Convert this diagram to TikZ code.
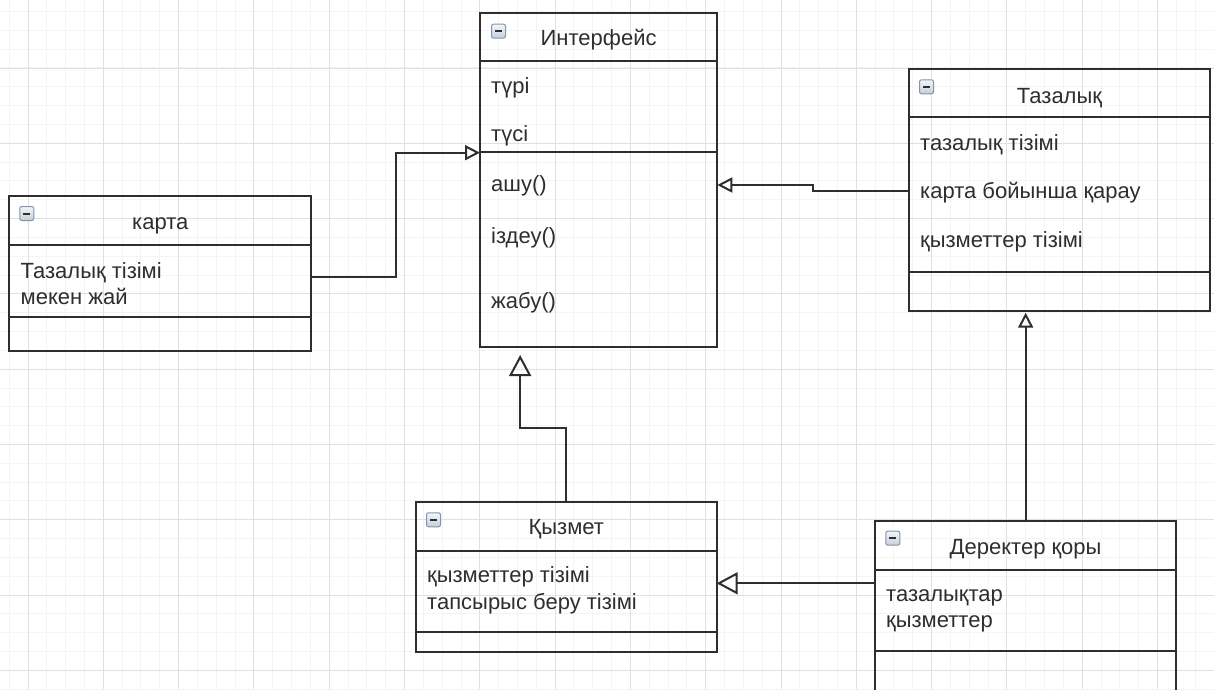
\documentclass[tikz,border=0pt]{standalone}
\usepackage{fontspec}
\setmainfont{Liberation Sans}
\usetikzlibrary{arrows.meta,calc}

\definecolor{ink}{HTML}{2E2E2E}
\definecolor{gridminor}{HTML}{F4F4F4}
\definecolor{gridmajor}{HTML}{E0E0E0}
\definecolor{icontop}{HTML}{F4F6F9}
\definecolor{iconbottom}{HTML}{C3CEDB}
\definecolor{iconedge}{HTML}{8395AA}

\tikzset{
  classbox/.style={draw=ink, line width=2.1pt, inner sep=0pt, outer sep=0pt},
  sepline/.style={draw=ink, line width=2pt},
  title/.style={anchor=base, text=ink, inner sep=0pt, font=\fontsize{22}{26}\selectfont},
  member/.style={anchor=base west, text=ink, inner sep=0pt, font=\fontsize{22}{26}\selectfont},
  foldicon/.style={draw=iconedge, line width=1pt, rounded corners=2pt,
    top color=icontop, bottom color=iconbottom, minimum size=14pt, inner sep=0pt,
    path picture={\draw[ink, line width=2pt]
      ([xshift=3.5pt]path picture bounding box.west) --
      ([xshift=-3.5pt]path picture bounding box.east);}},
  wire/.style={draw=ink, line width=2pt},
  inhsmall/.style={wire, -{Triangle[open, length=15pt, width=15pt]}},
  inhbig/.style={wire, -{Triangle[open, length=21pt, width=22pt]}},
}

\begin{document}
\begin{tikzpicture}[x=1pt, y=-1pt]
  \path[use as bounding box] (0,0) rectangle (1214,689);
  \clip (0,0) rectangle (1214,689);
  \fill[white] (0,0) rectangle (1214,689);

  % background grid
  \foreach \i in {0,...,64} { \draw[gridminor, line width=1pt] ({9.2+18.825*\i},0) -- ++(0,689); }
  \foreach \j in {0,...,36} { \draw[gridminor, line width=1pt] (0,{11.5+18.825*\j}) -- ++(1214,0); }
  \foreach \i in {0,...,15} { \draw[gridmajor, line width=1pt] ({28+75.3*\i},0) -- ++(0,689); }
  \foreach \j in {0,...,8} { \draw[gridmajor, line width=1pt] (0,{68+75.3*\j}) -- ++(1214,0); }

  % class frames
  \node[classbox, anchor=north west, minimum width=237.3pt, minimum height=334pt] (iface) at (480,12.7) {};
  \node[classbox, anchor=north west, minimum width=302pt, minimum height=155.3pt] (karta) at (9.3,196) {};
  \node[classbox, anchor=north west, minimum width=301pt, minimum height=241.4pt] (taz) at (909,69.3) {};
  \node[classbox, anchor=north west, minimum width=300.7pt, minimum height=150pt] (qyz) at (416,502.3) {};
  \node[classbox, anchor=north west, minimum width=300.7pt, minimum height=180pt] (der) at (875.3,520.7) {};

  % compartment separators
  \draw[sepline] ($(iface.north west)+(0,48.6)$) -- ($(iface.north east)+(0,48.6)$);
  \draw[sepline] ($(iface.north west)+(0,139.3)$) -- ($(iface.north east)+(0,139.3)$);
  \draw[sepline] ($(karta.north west)+(0,49.3)$) -- ($(karta.north east)+(0,49.3)$);
  \draw[sepline] ($(karta.north west)+(0,120.7)$) -- ($(karta.north east)+(0,120.7)$);
  \draw[sepline] ($(taz.north west)+(0,48)$) -- ($(taz.north east)+(0,48)$);
  \draw[sepline] ($(taz.north west)+(0,202.4)$) -- ($(taz.north east)+(0,202.4)$);
  \draw[sepline] ($(qyz.north west)+(0,48.4)$) -- ($(qyz.north east)+(0,48.4)$);
  \draw[sepline] ($(qyz.north west)+(0,129.4)$) -- ($(qyz.north east)+(0,129.4)$);
  \draw[sepline] ($(der.north west)+(0,49.3)$) -- ($(der.north east)+(0,49.3)$);
  \draw[sepline] ($(der.north west)+(0,130)$) -- ($(der.north east)+(0,130)$);

  % collapse icons
  \node[foldicon] (ifaceicon) at ($(iface.north west)+(18.5,18.5)$) {};
  \node[foldicon] (kartaicon) at ($(karta.north west)+(17.5,17.5)$) {};
  \node[foldicon] (tazicon) at ($(taz.north west)+(17.5,17.5)$) {};
  \node[foldicon] (qyzicon) at ($(qyz.north west)+(17.5,17.5)$) {};
  \node[foldicon] (dericon) at ($(der.north west)+(17.5,17.5)$) {};

  % Интерфейс
  \node[title] (ifacetitle) at (598.6,45) {Интерфейс};
  \node[member] (ifacea1) at (491,93.5) {түрі};
  \node[member] (ifacea2) at (491,141) {түсі};
  \node[member] (ifacem1) at (491,191) {ашу()};
  \node[member] (ifacem2) at (491,243.5) {іздеу()};
  \node[member] (ifacem3) at (491,308) {жабу()};

  % карта
  \node[title] (kartatitle) at (160.3,229) {карта};
  \node[member] (kartaa1) at (20.5,278.3) {Тазалық тізімі};
  \node[member] (kartaa2) at (20.5,304) {мекен жай};

  % Тазалық
  \node[title] (taztitle) at (1059.5,103.3) {Тазалық};
  \node[member] (taza1) at (920,150) {тазалық тізімі};
  \node[member] (taza2) at (920,198.3) {карта бойынша қарау};
  \node[member] (taza3) at (920,247.3) {қызметтер тізімі};

  % Қызмет
  \node[title] (qyztitle) at (566.3,534.3) {Қызмет};
  \node[member] (qyza1) at (427,582.7) {қызметтер тізімі};
  \node[member] (qyza2) at (427,609.3) {тапсырыс беру тізімі};

  % Деректер қоры
  \node[title] (dertitle) at (1025.6,554) {Деректер қоры};
  \node[member] (dera1) at (886,601.7) {тазалықтар};
  \node[member] (dera2) at (886,627.7) {қызметтер};

  % generalisation connectors
  \draw[inhsmall] ([yshift=-3pt]karta.east) -- ++(84.4,0) |- ([yshift=27pt]iface.west);
  \draw[inhsmall] ([yshift=-1pt]taz.west) -- ++(-95.7,0) -- ++(0,-6) -- ([yshift=-5.3pt]iface.east);
  \draw[inhbig] (qyz.north) -- ++(0,-74) -| ([xshift=-78.5pt,yshift=-8.3pt]iface.south);
  \draw[inhbig] ([yshift=-62.6pt]der.north west) -- ([yshift=-6pt]qyz.east);
  \draw[inhsmall] (der.north) -- ([xshift=-33.85pt,yshift=-2pt]taz.south);
\end{tikzpicture}
\end{document}
